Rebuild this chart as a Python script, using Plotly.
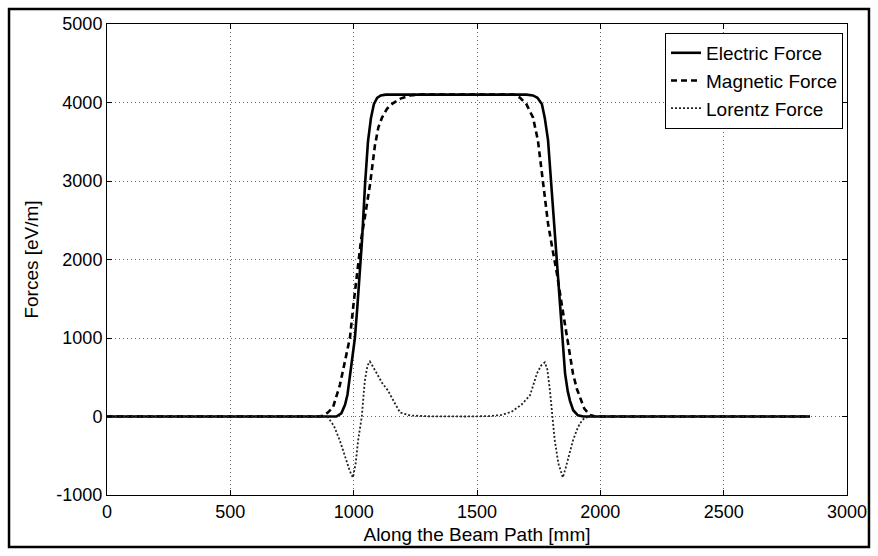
import plotly.graph_objects as go

# ---- data ----
electric_x = [0, 930, 950, 965, 975, 985, 995, 1005, 1015, 1025, 1034, 1046, 1058, 1070, 1082, 1095, 1110, 1130,
              1700, 1727, 1745, 1763, 1775, 1788, 1800, 1816, 1828, 1844, 1857, 1868, 1877, 1890, 1909, 1930, 2850]
electric_y = [0, 0, 40, 150, 280, 520, 760, 1000, 1400, 1850, 2250, 2950, 3500, 3800, 3980, 4060, 4090, 4100,
              4100, 4090, 4060, 3980, 3800, 3520, 3000, 2250, 1800, 1000, 550, 320, 200, 80, 15, 0, 0]

magnetic_x = [0, 860, 876, 895, 916, 930, 944, 955, 965, 975, 985, 1000, 1017, 1030, 1046, 1066, 1086, 1100, 1115,
              1135, 1159, 1190, 1228, 1260, 1650, 1675, 1700, 1727, 1747, 1767, 1788, 1805, 1824, 1845, 1865,
              1877, 1889, 1905, 1917, 1935, 1958, 1980, 2850]
magnetic_y = [0, 0, 10, 50, 115, 250, 400, 560, 720, 860, 1006, 1450, 1950, 2250, 2550, 2950, 3450, 3680, 3809,
              3920, 3990, 4050, 4090, 4100, 4100, 4060, 3980, 3809, 3516, 3006, 2459, 2150, 1820, 1400, 1006,
              750, 548, 350, 242, 100, 20, 0, 0]

lorentz_x = [0, 870, 896, 920, 944, 965, 985, 997, 1008, 1018, 1033, 1045, 1056, 1066, 1080, 1094, 1115, 1139,
             1165, 1188, 1228, 1300, 1450, 1550, 1600, 1640, 1680, 1715, 1743, 1760, 1775, 1785, 1795, 1805,
             1815, 1830, 1848, 1860, 1875, 1889, 1905, 1917, 1935, 1960, 2850]
lorentz_y = [0, 0, -10, -120, -306, -522, -700, -777, -600, -306, 0, 450, 650, 700, 630, 548, 430, 331,
             180, 51, 13, 3, 0, 5, 20, 60, 150, 270, 548, 650, 690, 600, 350, 0,
             -300, -600, -777, -650, -480, -306, -170, -90, -20, 0, 0]

x_ticks = [0, 500, 1000, 1500, 2000, 2500, 3000]
y_ticks = [-1000, 0, 1000, 2000, 3000, 4000, 5000]

FONT = "Liberation Sans, Arial, sans-serif"

fig = go.Figure()
fig.add_trace(go.Scatter(x=electric_x, y=electric_y, mode="lines", name="Electric Force",
                         line=dict(color="black", width=2.6)))
fig.add_trace(go.Scatter(x=magnetic_x, y=magnetic_y, mode="lines", name="Magnetic Force",
                         line=dict(color="black", width=2.6, dash="6px,4px")))
fig.add_trace(go.Scatter(x=lorentz_x, y=lorentz_y, mode="lines", name="Lorentz Force",
                         line=dict(color="#222222", width=1.8, dash="2px,2px")))

axis_common = dict(
    showline=True, linecolor="black", linewidth=1, mirror="ticks",
    ticks="inside", ticklen=5, tickcolor="black",
    showgrid=True, gridcolor="#666666", griddash="1px,3px", gridwidth=1,
    zeroline=False, tickfont=dict(family=FONT, size=18, color="black"),
)

fig.update_layout(
    width=878, height=556,
    margin=dict(l=107, r=31, t=24, b=61, pad=0),
    paper_bgcolor="white", plot_bgcolor="white",
    font=dict(family=FONT, size=18, color="black"),
    xaxis=dict(range=[0, 3000], tickvals=x_ticks, ticktext=[str(v) for v in x_ticks],
               title=dict(text="Along the Beam Path [mm]", font=dict(size=19), standoff=7),
               **axis_common),
    yaxis=dict(range=[-1000, 5000], tickvals=y_ticks, ticktext=[str(v) for v in y_ticks],
               title=dict(text="Forces [eV/m]", font=dict(size=19), standoff=12),
               **axis_common),
    legend=dict(x=0.9946, xanchor="right", y=0.981, yanchor="top",
                bgcolor="white", bordercolor="black", borderwidth=1,
                font=dict(family=FONT, size=19, color="black"),
                itemwidth=30, tracegroupgap=0),
    showlegend=True,
    shapes=[dict(type="rect", xref="paper", yref="paper",
                 x0=-0.1324, x1=1.0297, y0=-0.1104, y1=1.0318,
                 line=dict(color="black", width=2.5), fillcolor="rgba(0,0,0,0)", layer="above")],
)

fig.write_html("out.html")
